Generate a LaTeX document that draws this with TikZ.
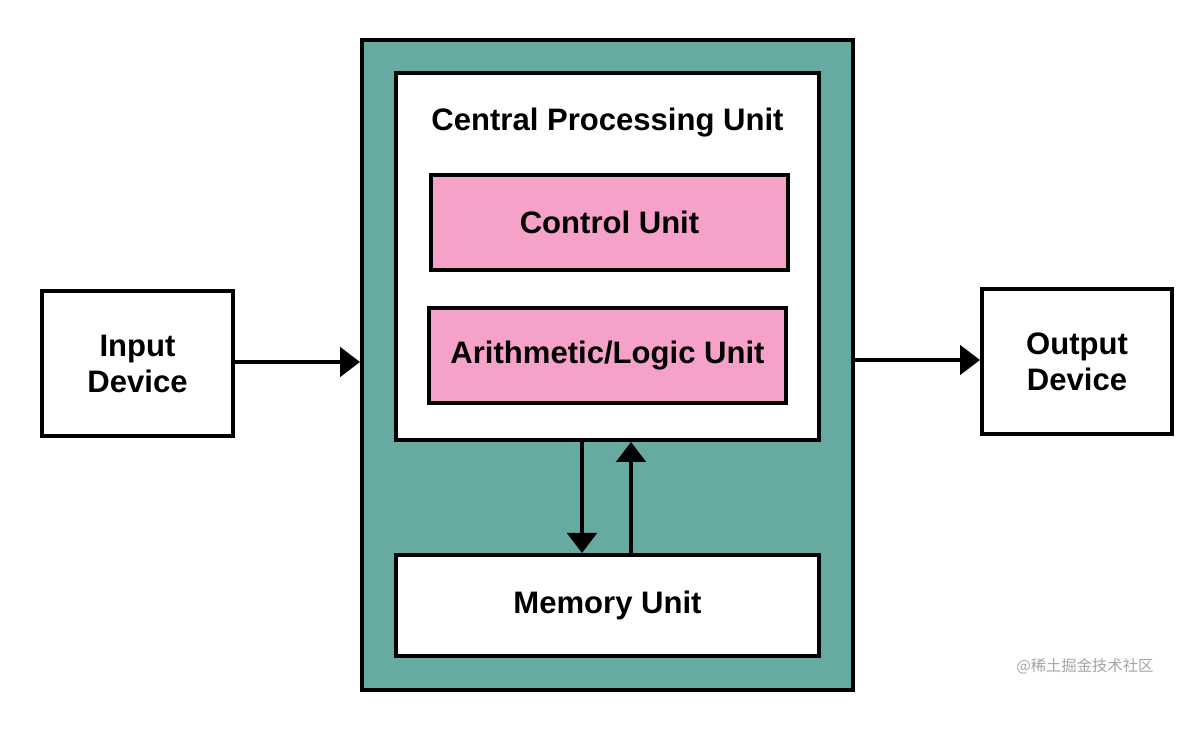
\documentclass[tikz,border=0pt]{standalone}
\usepackage{fontspec}
\setmainfont{Liberation Sans}
\newfontfamily\cjk{Noto Sans CJK SC}
\usetikzlibrary{arrows.meta}
\definecolor{tealbg}{RGB}{102,170,161}
\definecolor{pinkbox}{RGB}{246,161,201}
\definecolor{wmgray}{RGB}{165,165,165}
\tikzset{
  txt/.style={font=\bfseries\fontsize{23.3}{27}\selectfont},
  box/.style={draw=black, line width=3pt, fill=white, inner sep=0pt, txt, align=center},
  pinkbx/.style={box, fill=pinkbox},
  arr/.style={line width=3pt, -{Triangle[length=15pt,width=22pt]}},
}
\begin{document}
\begin{tikzpicture}[x=0.75pt,y=-0.75pt]
\useasboundingbox (0,0) rectangle (1196,730);
\fill[white] (0,0) rectangle (1196,730);
% outer teal
\node[box, fill=tealbg, minimum width=491*0.75pt, minimum height=650*0.75pt] (outer) at (607.5,365) {};
\node[box, minimum width=423*0.75pt, minimum height=367*0.75pt] (cpu) at (607.5,256.5) {};
\node[txt] (cputitle) at (607.5,123) {Central Processing Unit};
\node[pinkbx, minimum width=357*0.75pt, minimum height=95*0.75pt] (cu) at (609.5,222.5) {Control Unit};
\node[pinkbx, minimum width=357*0.75pt, minimum height=95*0.75pt] (alu) at (607.5,355.5) {Arithmetic/Logic Unit};
\node[box, minimum width=423*0.75pt, minimum height=101*0.75pt] (mem) at (607.5,605.5) {Memory Unit};
\node[box, minimum width=191*0.75pt, minimum height=145*0.75pt] (in) at (137.5,363.5) {Input\\Device};
\node[box, minimum width=190*0.75pt, minimum height=145*0.75pt] (out) at (1077,361.5) {Output\\Device};
% arrows
\draw[arr] (in.east |- 0,362) -- (outer.west |- 0,362);
\draw[arr] (outer.east |- 0,360) -- (out.west |- 0,360);
\draw[arr] (cpu.south -| 582,0) -- (mem.north -| 582,0);
\draw[arr] (mem.north -| 631,0) -- (cpu.south -| 631,0);
\node[font=\cjk\fontsize{11.5}{14}\selectfont, text=wmgray, anchor=west, inner sep=0pt] (wm) at (1016,666) {@稀土掘金技术社区};
\end{tikzpicture}
\end{document}
